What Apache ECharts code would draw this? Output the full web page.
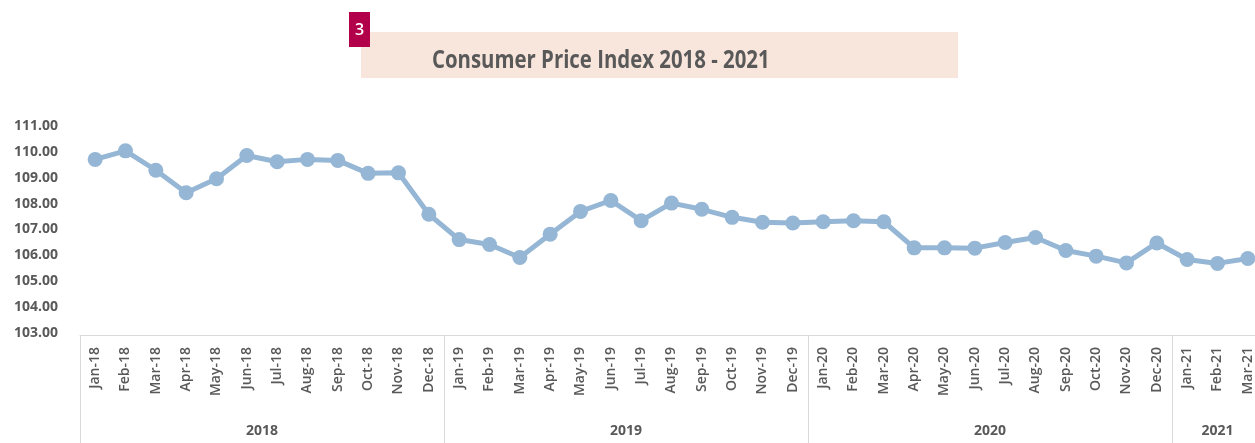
<!DOCTYPE html>
<html>
<head>
<meta charset="utf-8">
<script src="https://cdn.jsdelivr.net/npm/echarts@6.0.0/dist/echarts.min.js"></script>
<style>
  html, body { margin: 0; padding: 0; background: #fff; }
  #main { width: 1255px; height: 443px; }
</style>
</head>
<body>
<div id="main"></div>
<script>
// categories (month labels)
var months = [
    'Jan-18', 'Feb-18', 'Mar-18', 'Apr-18', 'May-18', 'Jun-18', 'Jul-18', 'Aug-18', 'Sep-18', 'Oct-18', 'Nov-18', 'Dec-18',
    'Jan-19', 'Feb-19', 'Mar-19', 'Apr-19', 'May-19', 'Jun-19', 'Jul-19', 'Aug-19', 'Sep-19', 'Oct-19', 'Nov-19', 'Dec-19',
    'Jan-20', 'Feb-20', 'Mar-20', 'Apr-20', 'May-20', 'Jun-20', 'Jul-20', 'Aug-20', 'Sep-20', 'Oct-20', 'Nov-20', 'Dec-20',
    'Jan-21', 'Feb-21', 'Mar-21'
];

// year groups under the month labels
var years = ['2018', '2019', '2020', '2021'];
var yearCounts = [12, 12, 12, 3];

// CPI values
var cpi = [
    109.71, 110.04, 109.29, 108.42, 108.96, 109.86, 109.62, 109.71, 109.67, 109.17, 109.19, 107.59,
    106.61, 106.42, 105.92, 106.82, 107.70, 108.12, 107.34, 108.02, 107.78, 107.47, 107.28, 107.25,
    107.30, 107.34, 107.30, 106.29, 106.29, 106.28, 106.50, 106.69, 106.19, 105.97, 105.71, 106.48,
    105.84, 105.69, 105.88
];

// y axis ticks
var yMin = 103, yMax = 111, yStep = 1;

var titleText = 'Consumer Price Index 2018 - 2021';
var badgeText = '3';

// year boundaries and label centres, built from yearCounts
var boundaries = [], yearMids = [], acc = 0;
yearCounts.forEach(function (n) {
    boundaries.push(acc);
    yearMids.push(acc + n / 2);
    acc += n;
});

var textColor = '#595959';
var lineColor = '#95b6d4';
var boxColor = '#d9d9d9';

var chart = echarts.init(document.getElementById('main'));

chart.setOption({
    animation: false,
    textStyle: { fontFamily: 'Open Sans' },
    graphic: [
        {
            type: 'rect',
            left: 361, top: 32,
            shape: { width: 597, height: 46 },
            style: { fill: '#f8e6dc' }
        },
        {
            type: 'text',
            x: 432, y: 48,
            scaleX: 0.815,
            style: {
                text: titleText,
                fill: textColor,
                font: 'bold 25px "Open Sans"'
            }
        },
        {
            type: 'rect',
            left: 349, top: 12,
            shape: { width: 21, height: 35 },
            style: { fill: '#b3004b' }
        },
        {
            type: 'text',
            left: 355, top: 22,
            style: {
                text: badgeText,
                fill: '#fff',
                font: '600 16px "Open Sans"'
            }
        }
    ],
    grid: {
        left: 80,
        top: 126,
        width: 1183,
        bottom: 110,
        outerBoundsMode: 'none'
    },
    xAxis: [
        {
            type: 'category',
            data: months,
            boundaryGap: true,
            offset: 2,
            axisLine: { lineStyle: { color: boxColor, width: 1 } },
            axisTick: {
                show: true,
                length: 110,
                lineStyle: { color: boxColor, width: 1 },
                interval: function (i) { return boundaries.indexOf(i) >= 0; }
            },
            axisLabel: {
                interval: 0,
                rotate: 90,
                margin: 12,
                fontSize: 14,
                fontWeight: 600,
                color: textColor
            },
            splitLine: { show: false }
        },
        {
            type: 'value',
            position: 'bottom',
            min: 0,
            max: months.length,
            axisLine: { show: false },
            axisTick: { show: false },
            splitLine: { show: false },
            axisLabel: {
                customValues: yearMids,
                margin: 91,
                fontSize: 14,
                fontWeight: 'bold',
                color: textColor,
                formatter: function (v) {
                    var i = yearMids.indexOf(v);
                    return i >= 0 ? years[i] : '';
                }
            }
        }
    ],
    yAxis: {
        type: 'value',
        min: yMin,
        max: yMax,
        interval: yStep,
        axisLine: { show: false },
        axisTick: { show: false },
        splitLine: { show: false },
        axisLabel: {
            margin: 22,
            fontSize: 14,
            fontWeight: 'bold',
            color: textColor,
            formatter: function (v) { return v.toFixed(2); }
        }
    },
    series: [
        {
            name: 'CPI',
            type: 'line',
            xAxisIndex: 0,
            data: cpi,
            symbol: 'circle',
            symbolSize: 15,
            lineStyle: { color: lineColor, width: 5 },
            itemStyle: { color: lineColor }
        }
    ]
});
</script>
</body>
</html>
